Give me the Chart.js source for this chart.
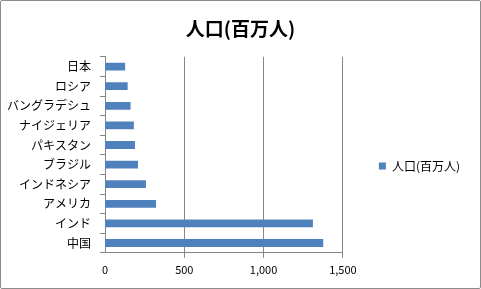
<!DOCTYPE html>
<html>
<head>
<meta charset="utf-8">
<script src="https://cdn.jsdelivr.net/npm/chart.js@4"></script>
<style>
  html, body { margin: 0; padding: 0; background: #fff; }
  #frame { width: 479px; height: 287px; border: 1px solid #8c8c8c; border-radius: 2px; }
  canvas { display: block; }
</style>
</head>
<body>
<div id="frame"><canvas id="c" width="479" height="287"></canvas></div>
<script>
// Population by country, millions
const countries = ['日本', 'ロシア', 'バングラデシュ', 'ナイジェリア', 'パキスタン', 'ブラジル', 'インドネシア', 'アメリカ', 'インド', '中国'];
const population = [127, 143, 161, 182, 189, 208, 258, 322, 1311, 1376];
const xTicks = [0, 500, 1000, 1500];
const seriesName = '人口(百万人)';

const FONT = '"Noto Sans CJK JP", "Noto Sans", sans-serif';
const AXIS_GREY = '#868686';

// Reserve extra room to the right of the legend and nudge its drawing,
// so the title stays centred on the whole canvas.
const legendSpacing = {
  id: 'legendSpacing',
  afterInit(chart, _args, opts) {
    const legend = chart.legend;
    if (!legend) return;
    const fit = legend.fit;
    legend.fit = function () {
      fit.call(this);
      this.width += opts.extraWidth;
    };
    const draw = legend.draw;
    legend.draw = function (...a) {
      const ctx = this.ctx;
      ctx.save();
      ctx.translate(opts.dx, opts.dy);
      draw.apply(this, a);
      ctx.restore();
    };
  }
};

new Chart(document.getElementById('c'), {
  type: 'bar',
  data: {
    labels: countries,
    datasets: [{
      label: seriesName,
      data: population,
      backgroundColor: '#4F81BD',
      borderWidth: 0,
      barPercentage: 0.8,
      categoryPercentage: 0.5
    }]
  },
  plugins: [legendSpacing],
  options: {
    indexAxis: 'y',
    responsive: false,
    animation: false,
    devicePixelRatio: 1,
    layout: { padding: { left: 4, right: 4, top: 0, bottom: 7 } },
    plugins: {
      legendSpacing: { extraWidth: 22, dx: 16, dy: 25 },
      title: {
        display: true,
        text: seriesName,
        color: '#000',
        font: { family: FONT, size: 19, weight: 'bold' },
        padding: { top: 16, bottom: 17 }
      },
      legend: {
        position: 'right',
        labels: {
          color: '#000',
          font: { family: FONT, size: 12 },
          boxWidth: 7,
          boxHeight: 7,
          padding: 20
        }
      },
      tooltip: { enabled: false }
    },
    scales: {
      x: {
        min: 0,
        max: 1500,
        afterBuildTicks: (axis) => { axis.ticks = xTicks.map(v => ({ value: v })); },
        grid: {
          color: AXIS_GREY,
          drawTicks: true,
          tickLength: 5,
          lineWidth: (ctx) => (ctx.tick && ctx.tick.value === 0 ? 0 : 1)
        },
        border: { color: AXIS_GREY, width: 1 },
        ticks: {
          color: '#000',
          font: { family: FONT, size: 11 },
          padding: 5,
          maxRotation: 0
        }
      },
      y: {
        grid: {
          offset: true,
          drawOnChartArea: false,
          drawTicks: true,
          tickLength: 5,
          color: AXIS_GREY
        },
        border: { color: AXIS_GREY, width: 1 },
        ticks: {
          color: '#000',
          font: { family: FONT, size: 12 },
          padding: 9
        },
        afterFit: (axis) => { axis.width = 100; }
      }
    }
  }
});
</script>
</body>
</html>
